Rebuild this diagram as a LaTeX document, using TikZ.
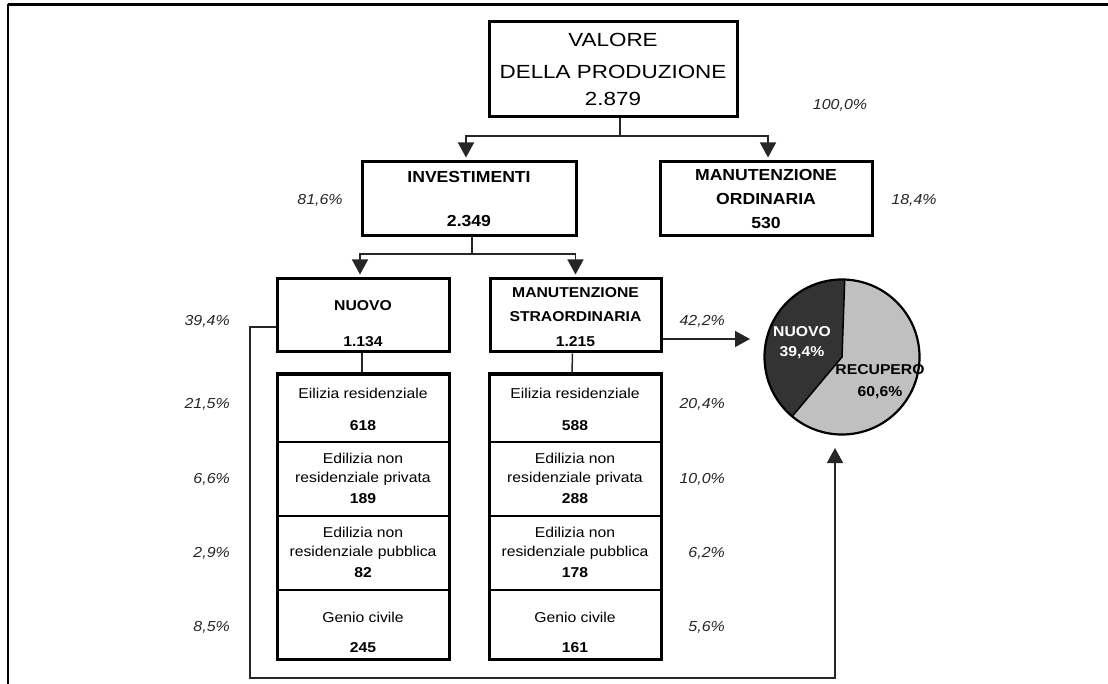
\documentclass[tikz,border=0pt]{standalone}
\usepackage{fontspec}
\setmainfont{Liberation Sans}[FakeStretch=1.1]
\newfontfamily\topfont{Liberation Sans}[FakeStretch=1.18]
\usetikzlibrary{arrows.meta,calc}
\definecolor{piedark}{HTML}{333333}
\definecolor{pielight}{HTML}{C0C0C0}
\begin{document}
\begin{tikzpicture}[x=1pt,y=-1pt,
  box/.style={draw, line width=3pt, rectangle, inner sep=0pt},
  rowbox/.style={draw, line width=1.5pt, rectangle, inner sep=0pt, minimum width=172},
  conn/.style={line width=1.5pt, draw=black!85},
  arr/.style={conn, -{Triangle[width=16pt 0 0,length=15pt 0 0]}},
  txt/.style={inner sep=0pt, font=\fontsize{14.3}{16}\selectfont},
  hd/.style={inner sep=0pt, font=\fontsize{14.3}{16}\selectfont\bfseries},
  bighd/.style={inner sep=0pt, font=\fontsize{16}{18}\selectfont\bfseries},
  pct/.style={inner sep=0pt, font=\fontsize{14.5}{16}\selectfont\itshape, text=black!85},
  toptxt/.style={inner sep=0pt, font=\fontsize{19}{22}\selectfont\topfont}
]
\useasboundingbox (0,0) rectangle (1108,684);
% frame
\draw[line width=3.5pt] (8,4.5) -- (1108,4.5);
\draw[line width=2.2pt] (8,4.5) -- (8,684);

% top box
\node[box, minimum width=248, minimum height=95] (vp) at (613,69.5) {};
\node[toptxt] (vp1) at (613,40) {VALORE};
\node[toptxt] (vp2) at (613,72) {DELLA PRODUZIONE};
\node[toptxt] (vp3) at (613,99) {2.879};
\node[pct] (p100) at (840,105) {100,0\%};

% level 2
\node[box, minimum width=214, minimum height=74] (inv) at (469,199) {};
\node[bighd] (inv1) at (469,177) {INVESTIMENTI};
\node[bighd] (inv2) at (469,221) {2.349};
\node[pct] (p816) at (320,200) {81,6\%};

\node[box, minimum width=212, minimum height=74] (mo) at (766,199) {};
\node[bighd] (mo1) at (766,175) {MANUTENZIONE};
\node[bighd] (mo2) at (766,199) {ORDINARIA};
\node[bighd] (mo3) at (766,223) {530};
\node[pct] (p184) at (914,200) {18,4\%};

% level 3
\node[box, minimum width=172, minimum height=73] (nuovo) at (363,315.5) {};
\node[hd] (nu1) at (363,306) {NUOVO};
\node[hd] (nu2) at (363,342) {1.134};
\node[pct, anchor=east] (p394) at (230,321) {39,4\%};

\node[box, minimum width=171, minimum height=73] (ms) at (575.5,315.5) {};
\node[hd] (ms1) at (575.5,293) {MANUTENZIONE};
\node[hd] (ms2) at (575.5,317) {STRAORDINARIA};
\node[hd] (ms3) at (575.5,342) {1.215};
\node[pct, anchor=east] (p422) at (725,321) {42,2\%};

% left stack rows
\node[rowbox, minimum height=68] (l1) at (363,408) {};
\node[rowbox, minimum height=74] (l2) at (363,479) {};
\node[rowbox, minimum height=74] (l3) at (363,553) {};
\node[rowbox, minimum height=69] (l4) at (363,624.5) {};
\node[box, minimum width=172, minimum height=285] (ls) at (363,516.5) {};
\node[txt] (l1a) at (363,393) {Eilizia residenziale};
\node[hd] (l1b) at (363,426) {618};
\node[txt] (l2a) at (363,458) {Edilizia non};
\node[txt] (l2b) at (363,478.5) {residenziale privata};
\node[hd] (l2c) at (363,499) {189};
\node[txt] (l3a) at (363,532) {Edilizia non};
\node[txt] (l3b) at (363,552.5) {residenziale pubblica};
\node[hd] (l3c) at (363,573) {82};
\node[txt] (l4a) at (363,617) {Genio civile};
\node[hd] (l4b) at (363,648) {245};

% right stack rows
\node[rowbox, minimum height=68] (r1) at (575,408) {};
\node[rowbox, minimum height=74] (r2) at (575,479) {};
\node[rowbox, minimum height=74] (r3) at (575,553) {};
\node[rowbox, minimum height=69] (r4) at (575,624.5) {};
\node[box, minimum width=172, minimum height=285] (rs) at (575,516.5) {};
\node[txt] (r1a) at (575,393) {Eilizia residenziale};
\node[hd] (r1b) at (575,426) {588};
\node[txt] (r2a) at (575,458) {Edilizia non};
\node[txt] (r2b) at (575,478.5) {residenziale privata};
\node[hd] (r2c) at (575,499) {288};
\node[txt] (r3a) at (575,532) {Edilizia non};
\node[txt] (r3b) at (575,552.5) {residenziale pubblica};
\node[hd] (r3c) at (575,573) {178};
\node[txt] (r4a) at (575,617) {Genio civile};
\node[hd] (r4b) at (575,648) {161};

% percentages
\node[pct, anchor=east] (pl1) at (230,404) {21,5\%};
\node[pct, anchor=east] (pl2) at (230,479) {6,6\%};
\node[pct, anchor=east] (pl3) at (230,553) {2,9\%};
\node[pct, anchor=east] (pl4) at (230,627) {8,5\%};
\node[pct, anchor=east] (pr1) at (725,404) {20,4\%};
\node[pct, anchor=east] (pr2) at (725,479) {10,0\%};
\node[pct, anchor=east] (pr3) at (725,553) {6,2\%};
\node[pct, anchor=east] (pr4) at (725,627) {5,6\%};

% pie
\coordinate (pc) at (842,357);
\fill[pielight] (pc) circle[radius=77.5pt];
\fill[piedark] (pc) -- ++(88:77.5pt) arc[start angle=88, end angle=230, radius=77.5pt] -- cycle;
\draw[line width=1.5pt] ($(pc)+(88:77.5pt)$) -- (pc) -- ($(pc)+(230:77.5pt)$);
\draw[line width=2.2pt] (pc) circle[radius=77.5pt];
\node[inner sep=0pt, font=\fontsize{14.3}{16}\selectfont\bfseries, text=white] (pn1) at (802,332) {NUOVO};
\node[inner sep=0pt, font=\fontsize{14.3}{16}\selectfont\bfseries, text=white] (pn2) at (802,353) {39,4\%};
\node[inner sep=0pt, font=\fontsize{14.3}{16}\selectfont\bfseries] (pr1t) at (880,370) {RECUPERO};
\node[inner sep=0pt, font=\fontsize{14.3}{16}\selectfont\bfseries] (pr2t) at (880,393) {60,6\%};

% connectors
\coordinate (j1) at (620,136);
\draw[conn] (vp.south -| j1) -- (j1);
\draw[arr, shorten >=3pt] (j1) -| ([xshift=-3pt]inv.north);
\draw[arr, shorten >=3pt] (j1) -| ([xshift=2pt]mo.north);

\coordinate (j2) at (472,254);
\draw[conn] (inv.south -| j2) -- (j2);
\draw[arr, shorten >=3pt] (j2) -| ([xshift=-3pt]nuovo.north);
\draw[arr, shorten >=3pt] (j2) -| (ms.north);

\draw[conn] ([xshift=-1pt]nuovo.south) -- ([xshift=-1pt]ls.north);
\draw[conn] ([xshift=-3pt]ms.south) -- ([xshift=-3pt]rs.north);

\coordinate (pa) at (750,339);
\draw[arr] (ms.east |- pa) -- (pa);

\coordinate (pb) at (835,448);
\coordinate (jc) at (250,678);
\draw[arr] ([yshift=-11.5pt]nuovo.west) -| (jc) -| (pb);
\end{tikzpicture}
\end{document}
